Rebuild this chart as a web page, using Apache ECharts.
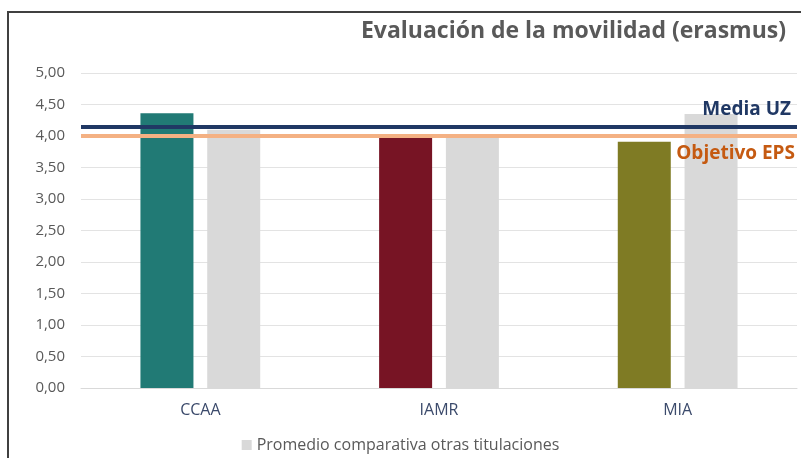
<!DOCTYPE html>
<html lang="es">

<head>
    <meta charset="UTF-8">
    <title>Evaluación de la movilidad (erasmus)</title>
    <script src="https://cdn.jsdelivr.net/npm/echarts@6/dist/echarts.min.js"></script>
    <style>
        body { margin: 0; background: #fff; }
        #main { width: 801px; height: 458px; }
    </style>
</head>

<body>
    <div id="main"></div>
    <script>
        // datos
        var categorias = ['CCAA', 'IAMR', 'MIA']
        var valoresTitulacion = [4.36, 3.97, 3.91]
        var coloresTitulacion = ['#217a75', '#771424', '#7f7b24']
        var promedioOtras = [4.10, 3.98, 4.35]
        var mediaUZ = 4.15
        var objetivoEPS = 4.00
        var ticksY = [0, 5, 0.5] // min, max, intervalo

        var mCharts = echarts.init(document.getElementById('main'))
        var fuente = 'Open Sans'

        var option = {
            animation: false,
            title: {
                text: 'Evaluación de la movilidad (erasmus)',
                right: 10,
                top: 15,
                textStyle: { fontFamily: fuente, fontSize: 23, fontWeight: 'bold', color: '#595959' }
            },
            graphic: [{
                type: 'rect',
                shape: { x: 8, y: 12, width: 900, height: 600 },
                style: { fill: 'none', stroke: '#404040', lineWidth: 2 },
                silent: true
            }],
            legend: {
                bottom: 0,
                left: 'center',
                itemWidth: 10,
                itemHeight: 10,
                icon: 'rect',
                data: ['Promedio comparativa otras titulaciones'],
                textStyle: { fontFamily: fuente, fontSize: 16, color: '#595959' }
            },
            grid: { left: 81, right: 4, top: 73, bottom: 70 },
            xAxis: {
                type: 'category',
                data: categorias,
                axisTick: { show: false },
                axisLine: { lineStyle: { color: '#d9d9d9' } },
                axisLabel: { fontFamily: fuente, fontSize: 16, color: '#3b4a6b', margin: 14 }
            },
            yAxis: {
                type: 'value',
                min: ticksY[0],
                max: ticksY[1],
                interval: ticksY[2],
                axisLabel: {
                    fontFamily: fuente, fontSize: 15, color: '#595959', margin: 16,
                    formatter: function (v) { return v.toFixed(2).replace('.', ',') }
                },
                splitLine: { lineStyle: { color: '#e3e3e3' } }
            },
            series: [{
                    name: 'Titulación',
                    type: 'bar',
                    barWidth: 53,
                    barGap: '26%',
                    data: valoresTitulacion.map(function (v, i) {
                        return { value: v, itemStyle: { color: coloresTitulacion[i] } }
                    }),
                    markLine: {
                        silent: true,
                        symbol: 'none',
                        z: 10,
                        data: [{
                                yAxis: mediaUZ,
                                lineStyle: { color: '#203864', width: 4, type: 'solid' },
                                label: {
                                    position: 'insideEndTop', formatter: 'Media UZ', distance: [6, 7],
                                    fontFamily: fuente, fontSize: 19, fontWeight: 'bold', color: '#203864'
                                }
                            },
                            {
                                yAxis: objetivoEPS,
                                lineStyle: { color: '#f4b183', width: 4, type: 'solid' },
                                label: {
                                    position: 'insideEndBottom', formatter: 'Objetivo EPS', distance: [2, 8],
                                    fontFamily: fuente, fontSize: 19, fontWeight: 'bold', color: '#c55a11'
                                }
                            }
                        ]
                    }
                },
                {
                    name: 'Promedio comparativa otras titulaciones',
                    type: 'bar',
                    barWidth: 53,
                    itemStyle: { color: '#d9d9d9' },
                    data: promedioOtras
                }
            ]
        }
        mCharts.setOption(option)
    </script>
</body>

</html>
